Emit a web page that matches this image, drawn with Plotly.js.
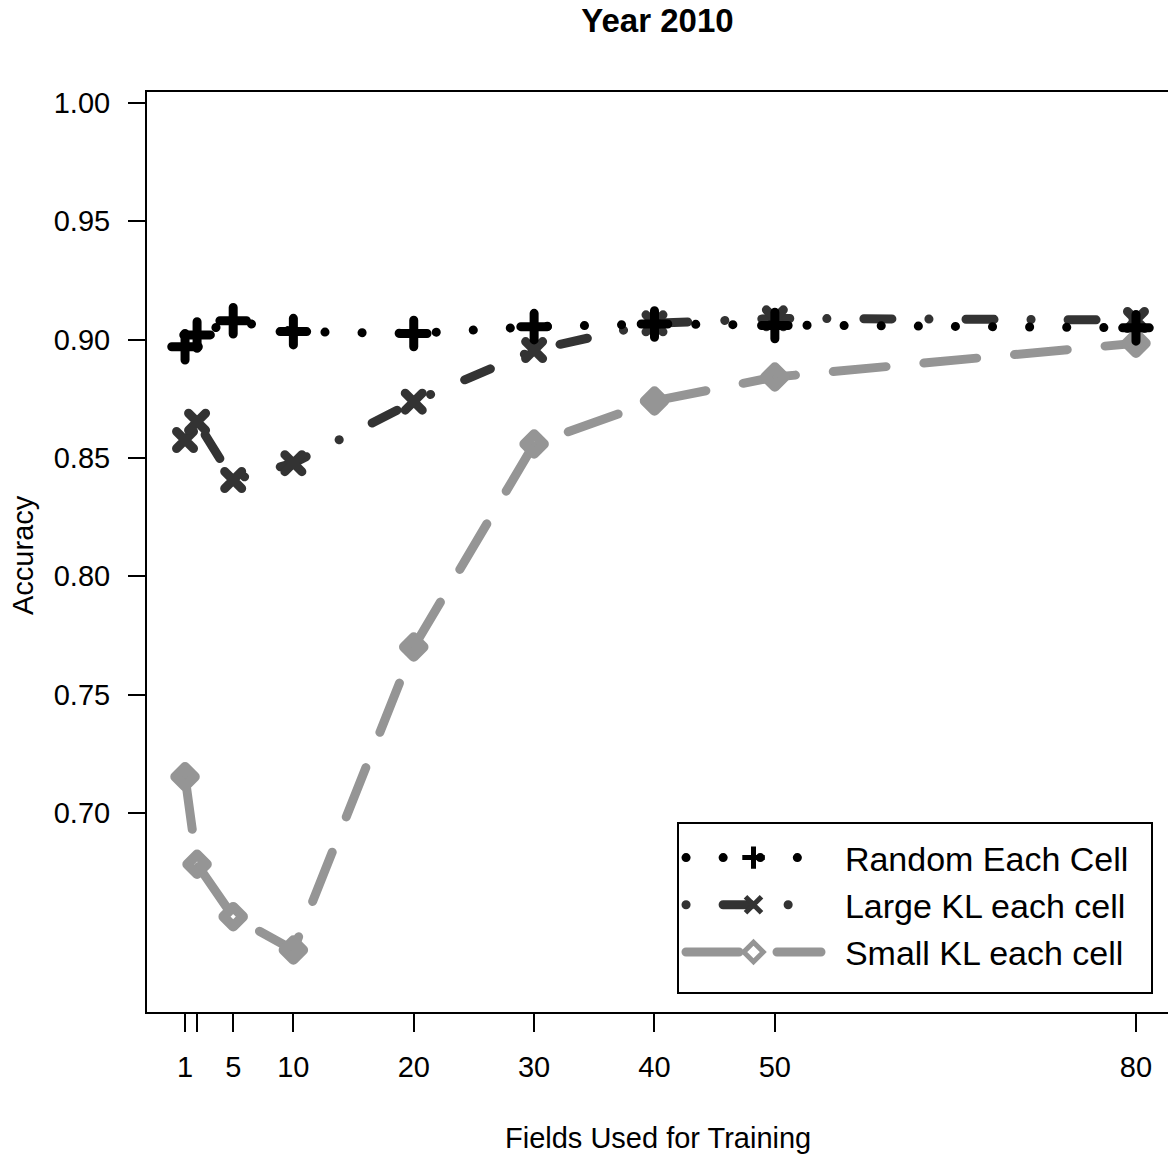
<!DOCTYPE html>
<html>
<head>
<meta charset="utf-8">
<script src="https://cdn.plot.ly/plotly-3.0.1.min.js"></script>
<style>
html, body { margin:0; padding:0; overflow:hidden; background:#fff; }
#chart { width:1168px; height:1155px; }
.js-line { stroke-linecap: round; stroke-linejoin: round; }
.legendlines path { stroke-linecap: round; }
.scatterlayer .point { stroke-linecap: round; stroke-linejoin: round; }
</style>
</head>
<body>
<div id="chart"></div>
<script>
const fields = [1, 2, 5, 10, 20, 30, 40, 50, 80];
const xTickVals = [1, 2, 5, 10, 20, 30, 40, 50, 80];
const xTickText = ['1', '', '5', '10', '20', '30', '40', '50', '80'];
const yTickVals = [0.70, 0.75, 0.80, 0.85, 0.90, 0.95, 1.00];
const yTickText = ['0.70', '0.75', '0.80', '0.85', '0.90', '0.95', '1.00'];

const randomEachCell = [0.897, 0.902, 0.908, 0.9034, 0.9026, 0.9055, 0.9066, 0.906, 0.905];
const largeKL = [0.8576, 0.8653, 0.8407, 0.8478, 0.8738, 0.8956, 0.9069, 0.909, 0.9083];
const smallKL = [0.7153, 0.6783, 0.6562, 0.6421, 0.7701, 0.8559, 0.8741, 0.8842, 0.8985];

const seriesNames = ['Random Each Cell', 'Large KL each cell', 'Small KL each cell'];

const FONT = 'Liberation Sans, Arial, Helvetica, sans-serif';
const PAD = '&nbsp;&nbsp;';

const traces = [
  {
    x: fields, y: smallKL, name: PAD + seriesNames[2], type: 'scatter', mode: 'lines+markers',
    line: {color: '#959595', width: 9, dash: '53px,38px'},
    marker: {symbol: 'diamond-open', size: 15, color: '#959595', line: {width: 10, color: '#959595'}},
    legendrank: 3
  },
  {
    x: fields, y: largeKL, name: PAD + seriesNames[1], type: 'scatter', mode: 'lines+markers',
    line: {color: '#333333', width: 9, dash: '0.1px,37px,28px,37px'},
    marker: {symbol: 'x-thin-open', size: 17, color: '#333333', line: {width: 9, color: '#333333'}},
    legendrank: 2
  },
  {
    x: fields, y: randomEachCell, name: PAD + seriesNames[0], type: 'scatter', mode: 'lines+markers',
    line: {color: '#000000', width: 9, dash: '0.1px,37px'},
    marker: {symbol: 'cross-thin-open', size: 19, color: '#000000', line: {width: 9, color: '#000000'}},
    legendrank: 1
  }
];

const PW = 1021, PH = 920, L = 147, B = 1012;

const layout = {
  width: 1168, height: 1155,
  margin: {l: 147, r: 0, t: 92, b: 143, pad: 0},
  paper_bgcolor: '#ffffff', plot_bgcolor: '#ffffff',
  font: {family: FONT, size: 29, color: '#000'},
  title: {
    text: '<b>Year 2010</b>', font: {family: FONT, size: 33, color: '#000'},
    x: 0.5, xref: 'paper', xanchor: 'center',
    y: 1 - 20/1155, yref: 'container', yanchor: 'middle'
  },
  xaxis: {
    range: [-2.16, 82.66], tickmode: 'array', tickvals: xTickVals, ticktext: xTickText,
    ticks: 'outside', ticklen: 18, tickwidth: 2, tickcolor: '#000',
    showline: true, linecolor: '#000', linewidth: 2, mirror: true,
    showgrid: false, zeroline: false, ticklabelstandoff: 10,
    tickfont: {family: FONT, size: 29, color: '#000'}
  },
  yaxis: {
    range: [0.6159, 1.00465], tickmode: 'array', tickvals: yTickVals, ticktext: yTickText,
    ticks: 'outside', ticklen: 17, tickwidth: 2, tickcolor: '#000',
    showline: true, linecolor: '#000', linewidth: 2, mirror: false,
    showgrid: false, zeroline: false, ticklabelstandoff: 12,
    tickfont: {family: FONT, size: 29, color: '#000'}
  },
  showlegend: true,
  legend: {
    x: (681 - L) / PW, xanchor: 'left', y: (B - 829) / PH, yanchor: 'top',
    bgcolor: 'rgba(0,0,0,0)', borderwidth: 0,
    font: {family: FONT, size: 34, color: '#000'},
    itemwidth: 135, traceorder: 'normal', tracegroupgap: 0
  },
  shapes: [
    {type: 'rect', xref: 'paper', yref: 'paper', layer: 'below',
     x0: (678 - L) / PW, x1: (1152 - L) / PW, y0: (B - 993) / PH, y1: (B - 823) / PH,
     line: {color: '#000', width: 2}, fillcolor: '#ffffff'}
  ],
  annotations: [
    {text: 'Fields Used for Training', xref: 'paper', yref: 'paper', x: 0.5, y: -(1138 - B) / PH,
     xanchor: 'center', yanchor: 'middle', showarrow: false, font: {family: FONT, size: 29, color: '#000'}},
    {text: 'Accuracy', xref: 'paper', yref: 'paper', x: -(L - 23) / PW, y: 0.5 - 3/PH,
     xanchor: 'center', yanchor: 'middle', textangle: -90, showarrow: false, font: {family: FONT, size: 29, color: '#000'}}
  ]
};

Plotly.newPlot('chart', traces, layout, {displayModeBar: false, staticPlot: true});
</script>
</body>
</html>
